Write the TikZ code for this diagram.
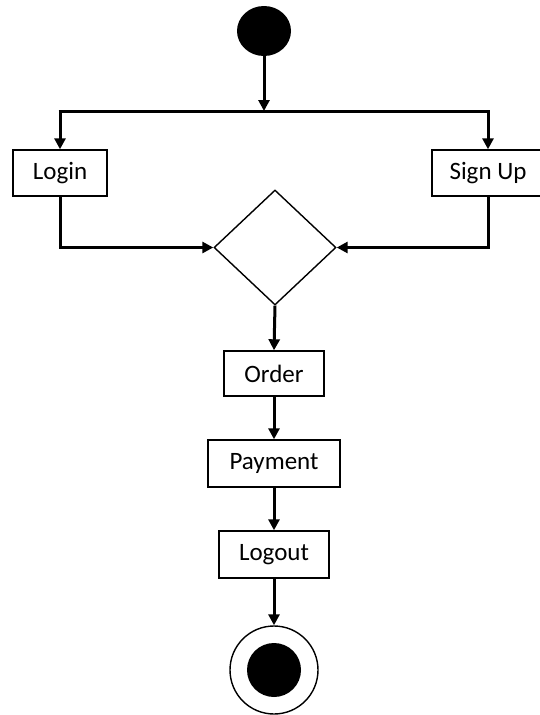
\documentclass[tikz,border=0pt]{standalone}
\usepackage{fontspec}
\setmainfont{Carlito}
\usetikzlibrary{shapes.geometric,arrows.meta}
\begin{document}
\begin{tikzpicture}[x=1pt,y=-1pt,
  actbox/.style={draw=black,line width=1.4pt,fill=white,inner sep=0pt,minimum height=46pt,font=\fontsize{25}{28}\selectfont},
  conn/.style={line width=3pt,-{Triangle[width=11pt,length=11pt]}},
  plain/.style={line width=3pt}]
\useasboundingbox (0,0) rectangle (540,715);
\fill[white] (0,0) rectangle (540,715);
\node[ellipse,fill=black,minimum width=54pt,minimum height=50pt,inner sep=0pt] (start) at (264,31) {};
\coordinate (br) at (264,111);
\node[actbox,minimum width=94pt] (login) at (60,173) {Login};
\node[actbox,minimum width=112pt] (signup) at (488,173) {Sign Up};
\node[diamond,draw=black,line width=1.4pt,inner sep=0pt,minimum width=122pt,minimum height=115pt,aspect=1.06] (dec) at (275,247.5) {};
\node[actbox,minimum width=100pt,minimum height=45pt] (order) at (274,373.5) {Order};
\node[actbox,minimum width=132pt,minimum height=47pt] (pay) at (274,463.5) {Payment};
\node[actbox,minimum width=110pt,minimum height=47pt] (logout) at (274,554.5) {Logout};
\node[circle,draw=black,line width=1.4pt,minimum size=88pt,inner sep=0pt] (fin) at (274,670) {};
\node[circle,fill=black,minimum size=54pt,inner sep=0pt] (fininner) at (fin.center) {};
\draw[conn] (start.south) -- (br);
\draw[plain] ([xshift=-1.5pt]login.north |- br) -- ([xshift=1.5pt]signup.north |- br);
\draw[conn] (br -| login.north) -- (login.north);
\draw[conn] (br -| signup.north) -- (signup.north);
\draw[conn] (login.south) |- (dec.west);
\draw[conn] (signup.south) |- (dec.east);
\draw[conn] (dec.south) -- (order.north);
\draw[conn] (order.south) -- (pay.north);
\draw[conn] (pay.south) -- (logout.north);
\draw[conn] (logout.south) -- (fin.north);
\end{tikzpicture}
\end{document}
